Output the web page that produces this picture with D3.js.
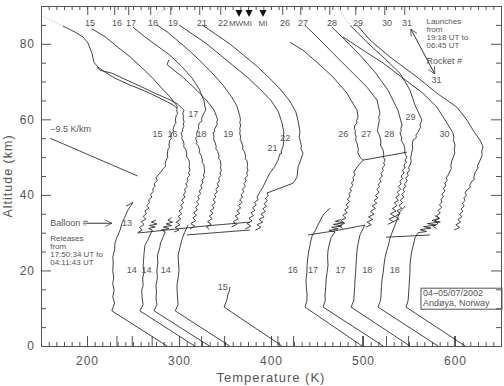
<!DOCTYPE html>
<html>
<head>
<meta charset="utf-8">
<script src="https://cdn.jsdelivr.net/npm/d3@7"></script>
<style>
body { margin: 0; background: #fff; }
text { font-family: "Liberation Sans", Arial, sans-serif; fill: #555; }
</style>
</head>
<body>
<div class="figure"></div>
<script>
// temperature profiles, offset per launch: [T (K), altitude (km)]

// balloon soundings
var b13  = [[287,0],[227,9.3],[230,11.4],[228,13],[229.5,14.8],[228,16.5],[229,18],[228,20],[228.5,22],[228,23.5],[230,25.5],[230.5,27.3],[233,29],[236,30.7],[238,32.5],[241,34.1],[244.5,36],[250,38],[242.5,37]]
var b14a = [[317,0],[257.5,9.3],[261,11],[260,12.5],[259.5,14.8],[261,16],[260.5,18],[262,19.5],[261,21],[261.5,22.8],[262,24.5],[263,26.7],[266,28],[268.5,29.4],[271,30.7],[267,31.1],[274,31.5],[268,31.9],[276,32.3],[270,32.8],[275,33.3]]
var b14b = [[333,0],[273,9.3],[276,11],[275,12.5],[275.5,14.5],[275,16],[276.5,18],[276,20],[277,22],[276.5,24],[279,26],[280,27.3],[283,29],[285,30.2],[281,30.7],[289,31.1],[283,31.5],[292,31.9],[286,32.3],[293,32.8],[288,33.3],[292,34]]
var b14c = [[355,0],[296,9.3],[299,11],[298.5,12.5],[298,14.5],[297.8,16.1],[299,18],[300,20.1],[299.5,22],[299,24],[301,26],[303,28],[306,30],[309.8,32]]
var b15  = [[412,0],[349,10.3],[352,12.2],[353,13.5],[354.4,14.3],[355.4,15.6]]
var b16  = [[499,0],[437,10.3],[439,12],[439.2,13.5],[438.5,15.5],[438,17.5],[439,19.5],[439.2,21.4],[440,23.5],[441.3,25.4],[443,27.5],[444.6,29.1],[448,30.5],[451,32],[456.6,34.7],[464,36.5]]
var b17a = [[522,0],[456.6,10.3],[459,12],[458.7,13.5],[459.5,15.5],[459.8,17.5],[461,19.5],[462,21.4],[461.5,23.5],[462,25.4],[463.5,27],[465.2,28.6],[469.6,30.2],[463,30.6],[473,31],[466,31.4],[477,31.8],[468,32.2],[479,32.6],[470,33],[476,33.5]]
var b17b = [[551,0],[487,10.3],[490,12],[490.3,13.5],[491,15.5],[491.3,17.5],[492,19.5],[492.4,21.4],[493,23.5],[493.5,25.4],[495,27.5],[496.7,29.4],[502,32]]
var b18a = [[581.5,0],[516.3,10.3],[519,12],[519.6,13.5],[520,15.5],[520.7,17.5],[522,19.5],[522.8,21.4],[524,23.5],[526,25.4],[528,27],[529.3,28.6],[534.8,32],[540,35.5],[545.7,37]]
var b18b = [[611,0],[546.8,10.3],[549,12],[549.5,13.5],[550,15.5],[550.5,17.5],[551,19.5],[551.1,21.4],[552,23.5],[553.3,25.4],[555,27],[556.5,28.6],[560,30],[569,30.3],[562,30.8],[574,31.2],[566,31.6],[579,32],[570,32.4],[584,32.8],[575,33.2],[583,33.8],[578,34.5]]

// rocket profiles
var r00 = [[173.9,84.7],[186.9,83.1],[195.7,81.8],[201.1,80.2],[205.4,77.5],[207.6,75.1],[212,73.8],[219.6,72.5],[230.4,70.9],[244.6,69.3],[263,67.5],[279.3,65.6],[292.4,64],[297.8,63]]
var r15 = [[205,84],[220,81.8],[234,79],[247,76.5],[260,73.6],[271,71],[281,68.3],[290,66],[298,63.5],[297.5,62.3],[298.5,61.5],[297,61],[296,59.8],[296.8,59],[295,58.5],[293.5,57.3],[294.2,56.8],[292,56.4],[291,55.3],[291.8,54.9],[290,54.5],[289,53.2],[289.7,52.6],[288,52],[287.3,50.6],[288,50],[286,49.2],[285,48.1],[285.6,47.6],[283,47],[280,46],[277,45.2],[275,44.5],[276.5,43.8],[273,43],[274,42.3],[271.5,41.6],[272,40.9],[269,40.1],[270.5,39.4],[267,38.7],[268,38],[265,37.2],[267.5,36.5],[263,35.8],[264.5,35],[261,34.3],[264,33.6],[259,32.9],[262,32.2],[257,31.4],[260,30.7],[255,30]]
var r16 = [[210.9,73.8],[214.1,73],[227.2,72.2],[241.3,70.6],[257.6,68.8],[273.9,66.9],[288,65.4],[298.9,64],[305.4,62.4],[304,61.5],[305,61],[304.4,60.3],[305.6,59.3],[304.6,58.8],[305.4,58.2],[303.6,57.3],[304.2,56.9],[302.2,56.4],[303.5,55.4],[302.8,55],[304.4,54.5],[305.5,53.4],[305,52.8],[307.6,51.9],[308.5,50.8],[308,50.2],[310.9,49.2],[311.5,48],[310.8,47.4],[312,46.6],[310.5,45.9],[311.5,45.2],[309,44.4],[310,43.7],[307.5,43],[309,42.3],[306,41.5],[307,40.8],[305,40.1],[306.5,39.4],[303,38.6],[305,37.9],[302,37.2],[304,36.5],[300,35.7],[303,35],[299,34.3],[302,33.6],[297,32.8],[301,32.1],[296,31.4],[300,30.7],[295,30.2]]
var r17 = [[250,84.4],[262,82],[276,79.5],[290,77],[303,74],[314,71],[322,68],[327,65],[329,62.5],[327.5,61.8],[326,61],[324.5,60.2],[325,59.6],[322,59],[321,58],[321.6,57.5],[320,57],[319,56],[319.6,55.5],[318,55],[319.5,54],[319,53.5],[321,53],[322.5,51.8],[322,51.2],[324,50.5],[325.5,49.2],[325,48.6],[327,48],[327.5,47],[328,46],[326.5,45.3],[327.5,44.6],[325,43.9],[326,43.2],[323.5,42.5],[325,41.8],[322,41],[323.5,40.3],[320.5,39.6],[322,38.9],[319,38.2],[321.5,37.5],[318,36.7],[320,36],[316,35.3],[319,34.6],[315,33.9],[318,33.2],[313,32.4],[317,31.7],[312,31]]
var r18 = [[289,75.7],[287,74.5],[292,73.5],[305,71],[318,68],[330,65],[338,62.5],[342,60],[341,59.2],[341.5,58.6],[340,58],[338.5,57.3],[339,56.8],[337,56.4],[338,55.5],[337.5,54.8],[339,54],[340.5,52.8],[340,52.2],[342,51.5],[343.5,50.3],[343,49.6],[345,49],[345.6,47.8],[345,47.2],[346,46.5],[344.5,45.8],[345.5,45.1],[343,44.4],[344,43.7],[341.5,43],[343,42.3],[340,41.5],[341.5,40.8],[338.5,40.1],[340,39.4],[337,38.7],[339.5,38],[336,37.2],[338,36.5],[334,35.8],[337,35.1],[333,34.4],[336,33.7],[331,32.9],[335,32.2],[330,31.5],[333,30.8]]
var r19 = [[276,85],[288,83],[300,80.5],[312,78],[325,75],[337,72],[348,69],[357,66],[363,63.5],[366,61],[366.8,59.8],[366,59.2],[367,58.5],[366,57.5],[366.6,57],[366,56.4],[367,55.3],[366.5,54.7],[368,54],[369.5,52.7],[369,52.1],[371,51.5],[372.5,50.3],[372,49.6],[374,49],[374.6,47.8],[374,47.2],[375,46.5],[373.5,45.8],[374.5,45.1],[372,44.4],[373,43.7],[370.5,43],[372,42.3],[369,41.5],[370.5,40.8],[367.5,40.1],[369,39.4],[366,38.7],[368.5,38],[364.5,37.2],[367,36.5],[363,35.8],[366,35.1],[361,34.4],[364.5,33.7],[359,32.9],[363,32.2],[357,31.5]]
var r21 = [[300,85],[315,82.5],[330,80],[345,77],[360,74],[375,71],[388,68],[400,65],[408,62],[412,59],[414,56.5],[413.2,55.2],[414,54.4],[413,52.7],[411,51.6],[411.6,51],[410,51],[407.6,49.2],[404,47.5],[398.9,45.8],[395,44],[391.3,42.1],[388,40.8],[384.8,39.4],[386,38.7],[382,38],[384,37.3],[380,36.6],[382.5,35.9],[378,35.2],[381,34.5],[376,33.8],[379.5,33.1],[374,32.4],[378,31.7],[372,31]]
var r22 = [[325,85],[340,82.5],[355,80],[370,77],[385,74],[398,71],[410,68],[420,65],[427,62],[430,59],[431.5,56.5],[430.6,55.4],[431.5,54.5],[433,53],[432.6,52.2],[434.8,51],[432,49],[429.4,47.4],[428.3,44.7],[426,43.8],[424,43.1],[412,42],[395.7,40.5],[397,39.8],[394,39.1],[396,38.4],[392.5,37.7],[395,37],[391,36.3],[394,35.6],[389,34.9],[392.5,34.2],[387,33.5],[391,32.8],[385,32.1],[389,31.4],[383,30.7]]
var r26 = [[420.7,80.4],[434.8,78.3],[450,75.1],[467.4,71.2],[482.6,66.9],[493.5,62.4],[494.6,60.6],[493,59.6],[493.6,59],[491.3,58.5],[490.5,57.5],[491.8,57],[491.3,56.4],[492.6,55.3],[492,54.6],[493.5,53.7],[495,52],[494.4,51.2],[496.7,50],[500,49.2],[494,47.5],[490,46],[491.5,45.3],[489,44.6],[490,43.9],[487.5,43.2],[489,42.5],[486,41.7],[487.5,41],[484.5,40.3],[486,39.6],[483,38.9],[485.5,38.2],[481.5,37.4],[484,36.7],[480,36],[483,35.3],[478,34.6],[481.5,33.9],[476,33.2],[480,32.5],[474,31.8],[478,31.1]]
var r27 = [[437,84.9],[450,81.8],[467.4,77.5],[485.9,73],[504.4,68.5],[515.2,65.1],[518.5,61.6],[517,60.5],[517.8,59.8],[516.3,57.9],[515.6,57],[517,56.2],[518.5,55.3],[519.4,54],[519,53.2],[521.8,51.9],[522.6,50.6],[522.2,50],[523.9,49.2],[522.5,48.5],[523.5,47.8],[521,47.1],[522,46.4],[519.5,45.7],[521,45],[518,44.2],[519.5,43.5],[516.5,42.8],[518,42.1],[515,41.4],[517.5,40.7],[513.5,39.9],[516,39.2],[512,38.5],[515,37.8],[510,37.1],[513.5,36.4],[508,35.6],[512,34.9],[506,34.2],[510.5,33.5],[504.5,32.8],[509,32.1],[503,31.4]]
var r28 = [[466.3,84.4],[480.4,81],[496.7,77],[513,72.5],[527.2,67.7],[538,62.4],[542.4,58.5],[541,57.6],[541.6,57],[540.2,56.4],[542,55.2],[541.6,54.4],[544.6,53.2],[545.6,51.8],[545,51.2],[547.8,50],[546,49.3],[547,48.6],[544.5,47.9],[545.5,47.2],[543,46.5],[544.5,45.8],[541.5,45],[543,44.3],[540,43.6],[541.5,42.9],[538.5,42.2],[541,41.5],[537,40.7],[539.5,40],[535.5,39.3],[538.5,38.6],[534,37.9],[537,37.2],[532,36.4],[536,35.7],[530,35],[534.5,34.3],[528.5,33.6],[533,32.9],[527,32.2]]
var r29 = [[485.9,84.9],[504.4,80.4],[521.8,76.5],[540.2,72.2],[551.1,67.7],[556.5,63.8],[564.1,59.8],[562,58.6],[562.6,58],[559.8,56.6],[557.5,55.8],[558,55.2],[554.4,54.5],[553.5,53.2],[554.2,52.4],[553,51.3],[551.8,49.8],[552.4,49],[551.1,47.9],[549.5,47.2],[550.5,46.5],[548,45.8],[549,45.1],[546.5,44.4],[548,43.7],[545,42.9],[546.5,42.2],[543.5,41.5],[545,40.8],[542,40.1],[544.5,39.4],[540.5,38.6],[543,37.9],[539,37.2],[542,36.5],[537,35.8],[540.5,35.1],[535,34.3],[539,33.6],[533,32.9]]
var r30 = [[478.3,81.8],[500,78.3],[521.8,74.9],[543.5,70.9],[565.2,66.9],[580.4,63.2],[591.3,59],[597.8,56.4],[598.8,55.3],[598.2,54.6],[600,53.2],[599.2,51.9],[599.8,51],[596.8,49.2],[595.5,47.8],[596,47],[592.4,45.2],[590.5,44.5],[591.5,43.8],[589,43.1],[590,42.4],[587.5,41.7],[589,41],[586,40.2],[587.5,39.5],[584.5,38.8],[586,38.1],[583,37.4],[585.5,36.7],[581.5,35.9],[584,35.2],[580,34.5],[583,33.8],[578,33.1],[581.5,32.4],[576,31.7],[580,31]]
var r31 = [[493.5,84.9],[507.6,81],[529.3,76.5],[558.7,71.2],[580.4,66.9],[602.2,63.2],[613,59.8],[619.6,57.1],[627.2,54.5],[630.5,52.7],[629,51.5],[629.6,50.6],[627,49],[624.5,47.8],[625,47.1],[622,46],[620.5,44.8],[621,44.1],[618,43.5],[616,42.5],[616.5,42],[613,41.3],[611,40.6],[612.5,39.9],[609.5,39.2],[611,38.5],[608,37.8],[610,37.1],[606.5,36.3],[608.5,35.6],[605,34.9],[607.5,34.2],[603,33.5],[606,32.8],[601,32.1],[605,31.4],[599,30.7]]

// connecting segments and guide lines
var jumps = [
    [[255.4,29.9],[290,30.8],[330,31.8],[377,32.8]],
    [[308.7,29.4],[340,30],[377,30.7]],
    [[440.2,29.4],[470,30.5],[502,32]],
    [[525,28.8],[550,29.1],[572.8,29.4]],
    [[500,49.2],[547.8,51.3]]
]
var dotted = [
    [[150,87.6],[173.9,84.7]],
    [[268.5,86.3],[280,88.5],[290,89.7]],
    [[472.8,89.4],[485.9,84.9]]
]
var lapseLine = [[160,55],[255,45]]

// labels
var topLabels = [["15",203.3],["16",232.6],["17",247.8],["18",271.7],["19",293.5],["21",325],["22",347.8],
                 ["26",415.2],["27",434.8],["28",466.3],["29",494.6],["30",526.1],["31",547.8]]
var instrLabels = [["MW",362],["MI",374.5],["MI",391.3]]
var instrMarks = [365.2,376.1,391.3]
var rocketLabels = [["15",282,56],["16",298.5,56],["17",321,61.5],["18",330,56],["19",359,56],["21",407,52.5],["22",421,55],
                    ["26",484,56],["27",509,56],["28",534,56],["29",557,60.5],["30",594,56]]
var balloonLabels = [["13",249,32.5],["14",254,20],["14",270,20],["14",291,20],["15",353,15.5],
                     ["16",429,20],["17",451,20],["17",481,20],["18",510,20],["18",540,20]]
var bottomMarks = [232,248.6,270.3,324,349,407,424,499,525,549,599]

var dim = { w: 504, h: 386 }
var margin = { left: 41, right: 3, top: 6, bottom: 40 }
var w = dim.w - margin.left - margin.right,
    h = dim.h - margin.top - margin.bottom

var svg = d3.select("div.figure").append("svg")
    .attr("width", dim.w).attr("height", dim.h)
    .append("g")
    .attr("transform", "translate(" + margin.left + "," + margin.top + ")")

var xScale = d3.scaleLinear().domain([150, 650]).range([0, w])
var yScale = d3.scaleLinear().domain([0, 90]).range([h, 0])

var line = d3.line()
    .x(function(d) { return xScale(d[0]) })
    .y(function(d) { return yScale(d[1]) })

// axes
var axisColor = "#555"
var xMajor = [200, 300, 400, 500, 600]
var xMinor = d3.range(150, 651, 100 / 12).filter(function(v) { return xMajor.indexOf(Math.round(v)) < 0 })
var yMinor = d3.range(0, 91, 5).filter(function(v) { return v % 20 != 0 })

function styleAxis(g) {
    g.selectAll("path, line").attr("stroke", axisColor).attr("stroke-width", 1)
    g.selectAll("text").style("font-size", "12px").style("letter-spacing", "1px")
        .style("font-family", "Liberation Sans, Arial, sans-serif").attr("fill", "#555")
}

svg.append("g").attr("transform", "translate(0," + h + ")")
    .call(d3.axisBottom(xScale).tickValues(xMajor).tickSize(-10).tickPadding(10).tickFormat(d3.format("d")))
    .call(styleAxis)
svg.append("g").attr("transform", "translate(0," + h + ")")
    .call(d3.axisBottom(xScale).tickValues(xMinor).tickSize(-4).tickFormat(""))
    .call(styleAxis)
svg.append("g").attr("transform", "translate(0," + h + ")")
    .call(d3.axisBottom(xScale).tickValues(bottomMarks).tickSize(-10).tickFormat(""))
    .call(styleAxis)
svg.append("g")
    .call(d3.axisTop(xScale).tickValues(xMinor.concat(xMajor)).tickSize(-4).tickFormat(""))
    .call(styleAxis)
svg.append("g")
    .call(d3.axisTop(xScale).tickValues(topLabels.map(function(d) { return d[1] - 3 })).tickSize(-9).tickFormat(""))
    .call(styleAxis)
svg.append("g")
    .call(d3.axisLeft(yScale).tickValues([0, 20, 40, 60, 80]).tickSize(-10).tickPadding(6).tickFormat(d3.format("d")))
    .call(styleAxis)
svg.append("g")
    .call(d3.axisLeft(yScale).tickValues(yMinor).tickSize(-5).tickFormat(""))
    .call(styleAxis)
svg.append("g").attr("transform", "translate(" + w + ",0)")
    .call(d3.axisRight(yScale).tickValues([0, 20, 40, 60, 80]).tickSize(-10).tickFormat(""))
    .call(styleAxis)
svg.append("g").attr("transform", "translate(" + w + ",0)")
    .call(d3.axisRight(yScale).tickValues(yMinor).tickSize(-5).tickFormat(""))
    .call(styleAxis)

svg.append("text")
    .attr("x", w / 2).attr("y", h + 36)
    .attr("text-anchor", "middle")
    .style("font-size", "13px").style("letter-spacing", "1px")
    .text("Temperature (K)")
svg.append("text")
    .attr("transform", "translate(" + (-29) + "," + (h / 2) + ") rotate(-90)")
    .attr("text-anchor", "middle")
    .style("font-size", "12.5px").style("letter-spacing", "1px")
    .text("Altitude (km)")

// profiles
var profiles = [b13, b14a, b14b, b14c, b15, b16, b17a, b17b, b18a, b18b,
                r00, r15, r16, r17, r18, r19, r21, r22, r26, r27, r28, r29, r30, r31]
svg.append("g").selectAll("path")
    .data(profiles.concat(jumps)).enter()
    .append("path")
    .attr("d", line)
    .attr("fill", "none")
    .attr("stroke", "#222")
    .attr("stroke-width", 0.85)
    .attr("stroke-linejoin", "round")

svg.append("g").selectAll("path")
    .data(dotted).enter()
    .append("path")
    .attr("d", line)
    .attr("fill", "none")
    .attr("stroke", "#888")
    .attr("stroke-width", 0.8)
    .attr("stroke-dasharray", "1,2")

svg.append("path").attr("d", line(lapseLine))
    .attr("fill", "none").attr("stroke", "#333").attr("stroke-width", 0.9)
svg.append("text").attr("x", xScale(160)).attr("y", yScale(57.4) + 3)
    .style("font-size", "9px").text("\u22129.5 K/km")

// labels along the top and next to the curves
svg.append("g").selectAll("text")
    .data(topLabels).enter().append("text")
    .attr("x", function(d) { return xScale(d[1]) })
    .attr("y", 20)
    .attr("text-anchor", "middle")
    .style("font-size", "9px")
    .text(function(d) { return d[0] })
svg.append("g").selectAll("text")
    .data(instrLabels).enter().append("text")
    .attr("x", function(d) { return xScale(d[1]) })
    .attr("y", 20)
    .attr("text-anchor", "middle")
    .style("font-size", "8px")
    .text(function(d) { return d[0] })
svg.append("g").selectAll("path")
    .data(instrMarks).enter().append("path")
    .attr("d", function(d) {
        var cx = xScale(d)
        return "M" + (cx - 3.5) + ",4L" + (cx + 3.5) + ",4L" + cx + ",11Z"
    })
    .attr("fill", "#111")
svg.append("g").selectAll("text")
    .data(rocketLabels.concat(balloonLabels)).enter().append("text")
    .attr("x", function(d) { return xScale(d[1]) })
    .attr("y", function(d) { return yScale(d[2]) + 3 })
    .attr("text-anchor", "end")
    .style("font-size", "9px")
    .text(function(d) { return d[0] })

// annotations
svg.append("defs").append("marker")
    .attr("id", "arr").attr("viewBox", "0 0 10 10")
    .attr("refX", 10).attr("refY", 5)
    .attr("markerWidth", 7).attr("markerHeight", 7)
    .attr("orient", "auto-start-reverse")
    .append("path").attr("d", "M0,0L10,5L0,10").attr("fill", "none").attr("stroke", "#333")

svg.append("text").attr("x", xScale(160)).attr("y", yScale(32.5) + 3)
    .style("font-size", "9px").text("Balloon #")
svg.append("line")
    .attr("x1", xScale(200)).attr("y1", yScale(32.5))
    .attr("x2", xScale(227)).attr("y2", yScale(32.5))
    .attr("stroke", "#333").attr("marker-end", "url(#arr)")

var releases = ["Releases", "from", "17:50:34 UT to", "04:11:43 UT"]
svg.append("g").selectAll("text")
    .data(releases).enter().append("text")
    .attr("x", xScale(160))
    .attr("y", function(d, i) { return yScale(28.5) + 3 + i * 8 })
    .style("font-size", "8px")
    .text(function(d) { return d })

var launches = ["Launches", "from", "19:18 UT to", "06:45 UT"]
svg.append("g").selectAll("text")
    .data(launches).enter().append("text")
    .attr("x", xScale(569))
    .attr("y", function(d, i) { return yScale(86) + 3 + i * 8 })
    .style("font-size", "8px")
    .text(function(d) { return d })

svg.append("line")
    .attr("x1", xScale(552)).attr("y1", yScale(83.9))
    .attr("x2", xScale(578)).attr("y2", yScale(72))
    .attr("stroke", "#333")
    .attr("marker-start", "url(#arr)").attr("marker-end", "url(#arr)")
svg.append("text").attr("x", xScale(569)).attr("y", yScale(75.4) + 3)
    .style("font-size", "9px").text("Rocket #")
svg.append("text").attr("x", xScale(580)).attr("y", yScale(70.4) + 3)
    .attr("text-anchor", "middle")
    .style("font-size", "9px").text("31")

var box = svg.append("g").attr("transform", "translate(" + xScale(563) + "," + yScale(15.3) + ")")
box.append("rect").attr("width", 81).attr("height", 21)
    .attr("fill", "none").attr("stroke", "#555")
box.append("text").attr("x", 2).attr("y", 8).style("font-size", "9px").text("04\u201305/07/2002")
box.append("text").attr("x", 2).attr("y", 18).style("font-size", "9px").text("And\u00f8ya, Norway")
</script>
</body>
</html>
